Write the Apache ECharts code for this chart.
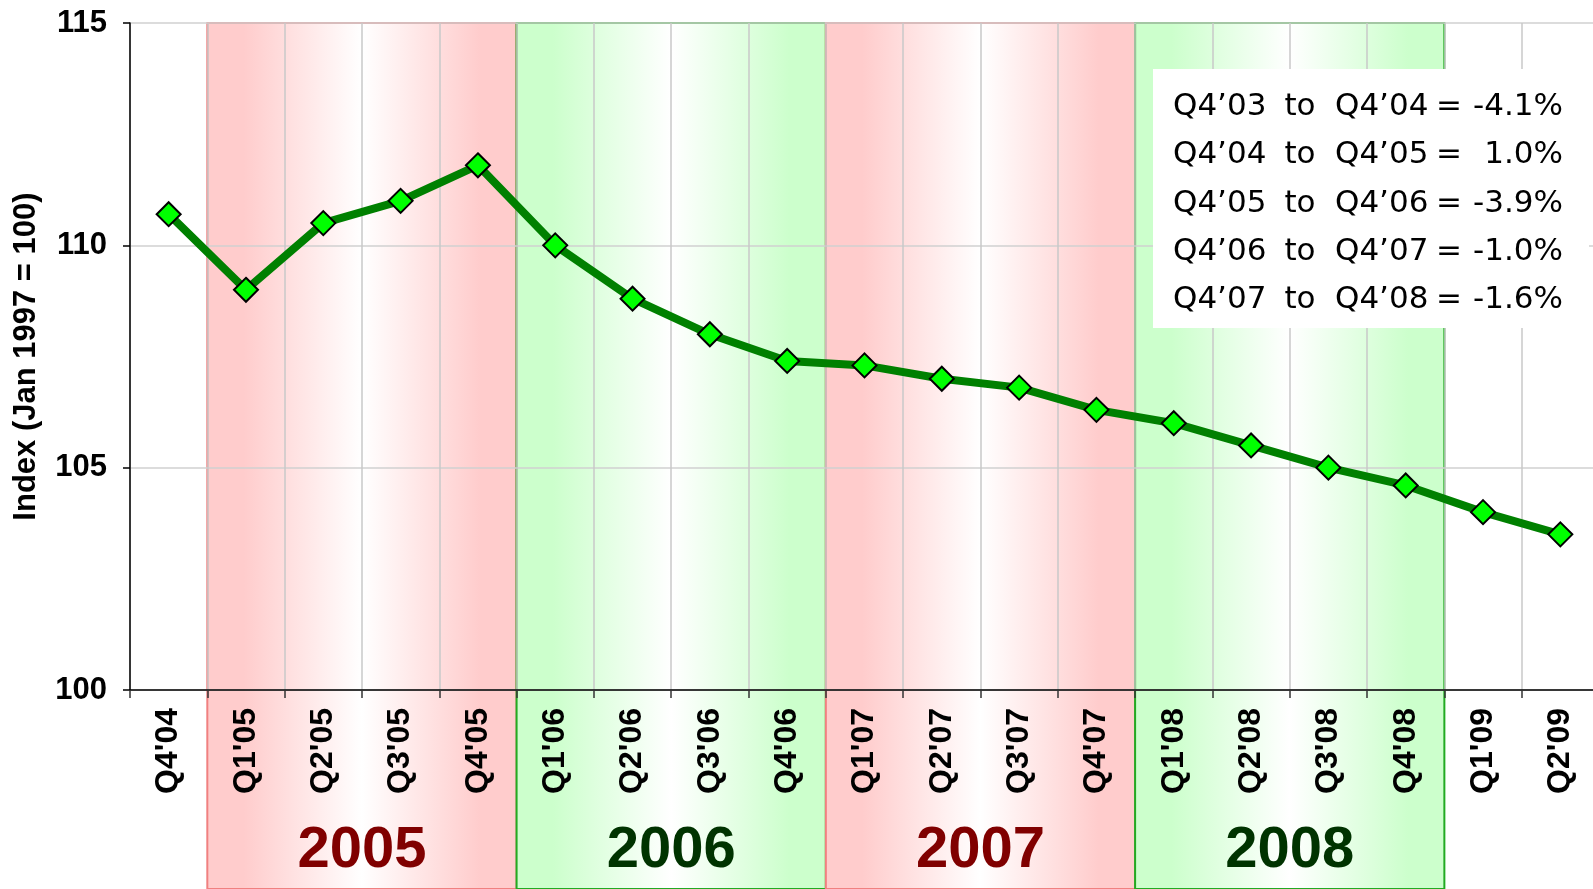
<!DOCTYPE html>
<html lang="en-US">
  <head>
    <meta charset="utf-8">
    <title>Index (Jan 1997 = 100)</title>
    <script type="text/javascript" src="https://cdn.jsdelivr.net/npm/echarts@6/dist/echarts.min.js"></script>
    <style>
      html, body { margin: 0; padding: 0; background: #fff; }
      #chart { width: 1593px; height: 889px; }
    </style>
  </head>
  <body>
    <div id="chart"></div>
    <script type="text/javascript">
    // quarters and index values
    var quarters = ["Q4'04", "Q1'05", "Q2'05", "Q3'05", "Q4'05",
                    "Q1'06", "Q2'06", "Q3'06", "Q4'06",
                    "Q1'07", "Q2'07", "Q3'07", "Q4'07",
                    "Q1'08", "Q2'08", "Q3'08", "Q4'08",
                    "Q1'09", "Q2'09"];
    var indexValues = [110.7, 109.0, 110.5, 111.0, 111.8,
                       110.0, 108.8, 108.0, 107.4,
                       107.3, 107.0, 106.8, 106.3,
                       106.0, 105.5, 105.0, 104.6,
                       104.0, 103.5];

    // year bands: first and last quarter index of each year
    var bandYears = ['2005', '2006', '2007', '2008'];
    var bandFirst = [1, 5, 9, 13];
    var bandLast  = [4, 8, 12, 16];
    var bandKind  = ['red', 'green', 'red', 'green'];

    // year-on-year notes in the box
    var noteFrom  = ['Q4\u201903', 'Q4\u201904', 'Q4\u201905', 'Q4\u201906', 'Q4\u201907'];
    var noteTo    = ['Q4\u201904', 'Q4\u201905', 'Q4\u201906', 'Q4\u201907', 'Q4\u201908'];
    var noteValue = ['-4.1%', '1.0%', '-3.9%', '-1.0%', '-1.6%'];

    var yMin = 100, yMax = 115;

    var palette = {
        red:   { edge: '#ffcccc', border: '#f08080', text: '#800000' },
        green: { edge: '#ccffcc', border: '#22aa22', text: '#003300' }
    };

    var bandData = [];
    for (var i = 0; i < bandYears.length; i++) {
        bandData.push([bandFirst[i], bandLast[i], i]);
    }

    function renderBand(params, api) {
        var k = api.value(2);
        var pal = palette[bandKind[k]];
        var w = api.size([1, 0])[0];
        var x0 = api.coord([api.value(0), yMax])[0] - w / 2;
        var x1 = api.coord([api.value(1), yMax])[0] + w / 2;
        var top = api.coord([api.value(0), yMax])[1];
        var bottom = api.getHeight();
        return {
            type: 'group',
            children: [{
                type: 'rect',
                shape: { x: x0, y: top, width: x1 - x0, height: bottom - top },
                style: {
                    fill: new echarts.graphic.LinearGradient(0, 0, 1, 0, [
                        { offset: 0, color: pal.edge },
                        { offset: 0.12, color: pal.edge },
                        { offset: 0.5, color: '#ffffff' },
                        { offset: 0.88, color: pal.edge },
                        { offset: 1, color: pal.edge }
                    ]),
                    stroke: pal.border,
                    lineWidth: 2
                }
            }, {
                type: 'text',
                style: {
                    text: bandYears[k],
                    x: (x0 + x1) / 2,
                    y: bottom - 38,
                    align: 'center',
                    verticalAlign: 'middle',
                    fill: pal.text,
                    font: 'bold 58px "Liberation Sans", Arial, sans-serif'
                }
            }]
        };
    }

    // note box, drawn as columns so the figures line up
    var noteFont = '31px "DejaVu Sans", sans-serif';
    var notes = [{
        type: 'rect', left: 1153, top: 69,
        shape: { width: 436, height: 259 },
        style: { fill: '#ffffff' }, z: 10
    }];
    for (var j = 0; j < noteFrom.length; j++) {
        var cy = 107 + j * 48.3;
        notes.push({ type: 'text', x: 1173, y: cy, z: 11,
            style: { text: noteFrom[j], font: noteFont, fill: '#000', verticalAlign: 'middle' } });
        notes.push({ type: 'text', x: 1300, y: cy, z: 11,
            style: { text: 'to', font: noteFont, fill: '#000', align: 'center', verticalAlign: 'middle' } });
        notes.push({ type: 'text', x: 1335, y: cy, z: 11,
            style: { text: noteTo[j], font: noteFont, fill: '#000', verticalAlign: 'middle' } });
        notes.push({ type: 'text', x: 1449, y: cy, z: 11,
            style: { text: '=', font: noteFont, fill: '#000', align: 'center', verticalAlign: 'middle' } });
        notes.push({ type: 'text', x: 1563, y: cy, z: 11,
            style: { text: noteValue[j], font: noteFont, fill: '#000', align: 'right', verticalAlign: 'middle' } });
    }

    var chart = echarts.init(document.getElementById('chart'));
    chart.setOption({
        animation: false,
        backgroundColor: '#ffffff',
        textStyle: { fontFamily: '"Liberation Sans", Arial, sans-serif' },
        grid: { left: 130, top: 23, width: 1469, height: 667, containLabel: false, outerBoundsMode: 'none' },
        xAxis: {
            type: 'category',
            data: quarters,
            boundaryGap: true,
            axisLine: { show: true, lineStyle: { color: '#000', width: 1.5 } },
            axisTick: { show: true, length: 8, interval: 0, lineStyle: { color: '#333', width: 1.5 } },
            axisLabel: {
                rotate: 90, interval: 0, margin: 18,
                fontSize: 32, fontWeight: 'bold', color: '#000'
            },
            splitLine: { show: true, interval: 0, lineStyle: { color: '#c8c8c8', width: 1.5 } }
        },
        yAxis: {
            type: 'value',
            min: yMin, max: yMax, interval: 5,
            name: 'Index (Jan 1997 = 100)',
            nameLocation: 'middle',
            nameGap: 88,
            nameTextStyle: { fontSize: 31, fontWeight: 'bold', color: '#000' },
            axisLine: { show: true, lineStyle: { color: '#000', width: 1.5 } },
            axisTick: { show: true, length: 7, lineStyle: { color: '#000', width: 1.5 } },
            axisLabel: { margin: 23, fontSize: 31, fontWeight: 'bold', color: '#000' },
            splitLine: { show: true, lineStyle: { color: '#d0d0d0', width: 1.5 } }
        },
        graphic: notes,
        series: [{
            type: 'custom',
            z: -1,
            silent: true,
            clip: false,
            renderItem: renderBand,
            encode: { x: [0, 1] },
            data: bandData
        }, {
            type: 'line',
            data: indexValues,
            z: 3,
            symbol: 'diamond',
            symbolSize: 24,
            lineStyle: { color: '#008000', width: 8 },
            itemStyle: { color: '#00ff00', borderColor: '#000', borderWidth: 2 }
        }]
    });
    </script>
  </body>
</html>
